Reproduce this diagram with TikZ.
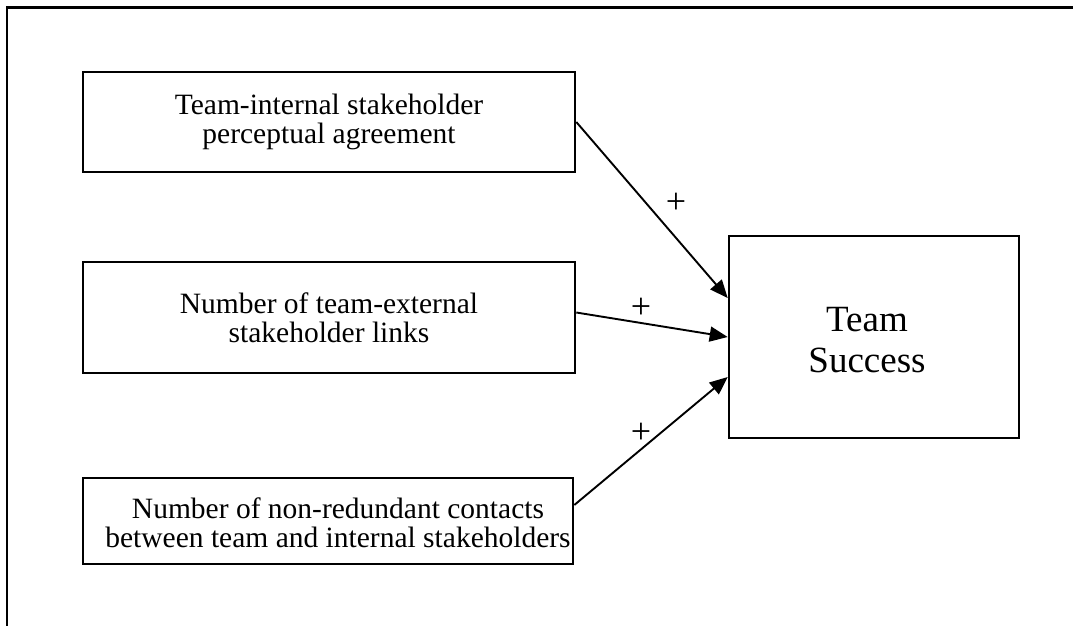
\documentclass[tikz,border=0pt]{standalone}
\usepackage{fontspec}
\setmainfont{Liberation Serif}
\usetikzlibrary{arrows.meta}
\begin{document}
\begin{tikzpicture}[x=1pt,y=-1pt,
  factor/.style={draw,line width=2.6pt,align=center,inner sep=0pt,
    font=\fontsize{29.5}{29}\selectfont},
  factext/.style={align=center,inner sep=0pt,
    font=\fontsize{29.5}{29}\selectfont},
  outcome/.style={draw,line width=2.6pt,inner sep=0pt,
    minimum width=290pt,minimum height=202pt},
  outtext/.style={align=center,inner sep=0pt,
    font=\fontsize{37}{41}\selectfont},
  link/.style={line width=1.9pt,-{Triangle[length=18pt,width=15pt]}},
  sign/.style={inner sep=0pt,font=\fontsize{36}{36}\selectfont}]
\useasboundingbox (0,0) rectangle (1073,625);
% outer frame (only top and left edges visible)
\coordinate (fbl) at (7,626);
\coordinate (ftl) at (7,7.5);
\coordinate (ftr) at (1074,7.5);
\draw[line width=2.8pt] (fbl) -- (ftl) -- (ftr);
% boxes
\node[factor,minimum width=492pt,minimum height=100pt] (b1) at (329,122)
  {Team-internal stakeholder\\perceptual agreement};
\node[factor,minimum width=492pt,minimum height=111pt] (b2) at (329,317.5)
  {Number of team-external\\stakeholder links};
\node[factor,minimum width=490pt,minimum height=86pt] (b3) at (328,521) {};
\node[factext] (b3text) at (338,523)
  {Number of non-redundant contacts\\between team and internal stakeholders};
\node[outcome] (ts) at (874,337) {};
\node[outtext] (tstext) at (867,340) {Team\\Success};
% connectors
\draw[link] (b1.east) -- ([yshift=39pt]ts.west);
\draw[link] ([yshift=5pt]b2.east) -- (ts.west);
\draw[link] ([yshift=16pt]b3.east) -- ([yshift=-40pt]ts.west);
% signs
\node[sign] (p1) at (676,203) {+};
\node[sign] (p2) at (641,308) {+};
\node[sign] (p3) at (641,433) {+};
\end{tikzpicture}
\end{document}
